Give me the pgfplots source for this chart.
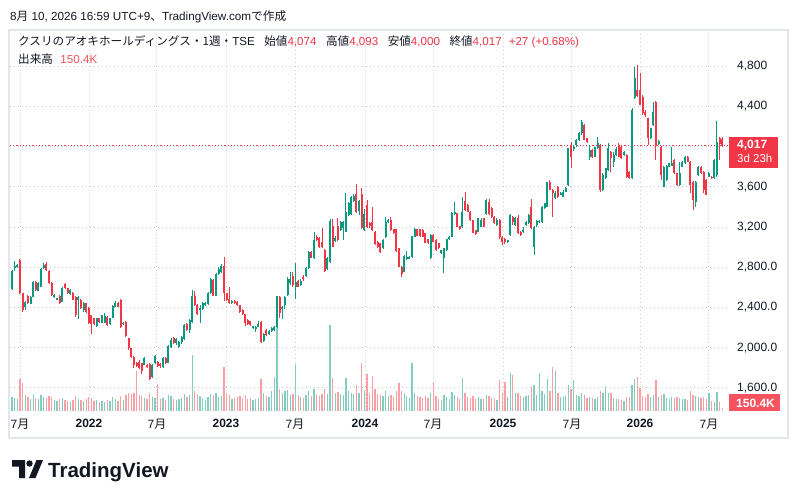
\documentclass[border=0pt]{standalone}
\usepackage{pgfplots}
\pgfplotsset{compat=1.18}
\usepackage{pgfplotstable}
\usepackage{fontspec}
\setmainfont{Liberation Sans}
\newfontfamily\cjk{Noto Sans CJK JP}
\definecolor{upc}{RGB}{8,153,129}
\definecolor{downc}{RGB}{242,54,69}
\definecolor{volup}{RGB}{131,204,192}
\definecolor{voldn}{RGB}{248,160,166}
\definecolor{gridc}{RGB}{200,202,208}
\definecolor{txtc}{RGB}{19,23,34}
\definecolor{volbox}{RGB}{247,82,95}
\definecolor{framec}{RGB}{226,229,236}

\pgfplotstableread{
w o h l c v
0 2581 2775 2570 2766 700
1 2790 2860 2766 2813 650
2 2805 2835 2795 2820 600
3 2870 2885 2530 2541 1600
4 2541 2545 2358 2375 1400
5 2401 2465 2375 2458 800
6 2514 2525 2430 2441 700
7 2435 2515 2430 2508 600
8 2508 2665 2500 2657 850
9 2657 2665 2565 2574 650
10 2567 2650 2560 2640 600
11 2607 2790 2600 2783 800
12 2790 2840 2780 2823 700
13 2830 2850 2760 2770 650
14 2766 2775 2630 2640 750
15 2640 2650 2515 2524 700
16 2508 2530 2498 2525 550
17 2481 2498 2475 2491 500
18 2514 2525 2430 2441 600
19 2458 2600 2450 2591 650
20 2630 2640 2585 2591 550
21 2591 2595 2530 2541 500
22 2530 2580 2525 2574 450
23 2541 2550 2470 2475 550
24 2508 2515 2310 2325 750
25 2475 2515 2282 2508 600
26 2475 2480 2385 2392 550
27 2375 2450 2360 2441 500
28 2441 2445 2350 2358 600
29 2392 2400 2235 2242 700
30 2325 2330 2136 2236 650
31 2292 2300 2230 2236 500
32 2216 2300 2210 2292 550
33 2292 2300 2250 2259 450
34 2249 2330 2245 2325 500
35 2249 2348 2245 2315 450
36 2309 2315 2220 2226 550
37 2236 2300 2230 2292 500
38 2300 2420 2295 2415 700
39 2408 2468 2400 2441 600
40 2441 2450 2400 2408 500
41 2475 2480 2200 2209 750
42 2236 2255 2225 2249 550
43 2259 2265 2105 2116 800
44 2093 2100 1980 1994 900
45 1994 2000 1900 1910 850
46 1910 1915 1794 1830 900
47 1850 1860 1805 1815 2000
48 1860 1875 1790 1795 800
49 1845 1850 1740 1770 750
50 1830 1905 1825 1895 650
51 1830 1840 1800 1805 600
52 1840 1845 1680 1690 900
53 1705 1840 1695 1830 700
54 1845 1930 1835 1918 650
55 1860 1870 1810 1820 1350
56 1840 1850 1800 1815 600
57 1810 1905 1800 1900 650
58 1900 1910 1835 1845 550
59 1850 2030 1845 2017 800
60 2010 2100 2000 2077 750
61 2100 2110 2040 2050 600
62 2050 2100 2030 2090 550
63 2010 2070 1995 2060 600
64 2060 2120 2040 2110 650
65 2083 2235 2075 2225 850
66 2240 2250 2170 2180 700
67 2175 2290 2150 2275 800
68 2260 2574 2250 2510 2800
69 2510 2560 2415 2425 1000
70 2425 2430 2330 2340 850
71 2380 2420 2250 2395 750
72 2380 2450 2370 2440 650
73 2425 2450 2415 2440 550
74 2430 2550 2425 2540 700
75 2540 2690 2530 2680 850
76 2670 2680 2510 2515 800
77 2515 2740 2510 2732 900
78 2730 2800 2720 2780 700
79 2750 2830 2745 2813 750
80 2810 2899 2460 2540 2200
81 2540 2545 2465 2475 900
82 2480 2607 2430 2440 800
83 2440 2470 2430 2460 600
84 2460 2470 2430 2440 650
85 2450 2460 2415 2425 700
86 2420 2425 2350 2360 750
87 2370 2380 2325 2335 650
88 2335 2340 2220 2245 800
89 2275 2290 2230 2240 600
90 2265 2270 2215 2230 650
91 2200 2220 2185 2210 550
92 2190 2215 2160 2210 600
93 2210 2265 2205 2240 650
94 2260 2270 2050 2060 1600
95 2065 2150 2055 2140 900
96 2175 2185 2120 2130 750
97 2140 2180 2130 2170 700
98 2165 2210 2155 2200 1000
99 2175 2220 2165 2210 1700
100 2210 2515 2200 2510 4300
101 2505 2510 2300 2350 1100
102 2390 2410 2285 2400 900
103 2420 2510 2385 2507 1000
104 2524 2700 2515 2683 1050
105 2640 2750 2625 2683 800
106 2716 2756 2600 2620 850
107 2600 2840 2484 2650 2350
108 2663 2670 2600 2607 800
109 2620 2680 2610 2660 700
110 2700 2720 2660 2685 650
111 2710 2800 2700 2790 800
112 2790 2960 2780 2955 1000
113 2955 2965 2890 2895 750
114 2890 3152 2880 3072 1100
115 3105 3120 3060 3072 800
116 3088 3100 2995 3005 750
117 3055 3187 2990 3000 850
118 2972 2980 2750 2763 1100
119 2785 2900 2775 2889 850
120 2855 3280 2845 3264 4300
121 3214 3280 3000 3005 1650
122 3062 3110 3050 3095 900
123 3214 3287 3065 3072 950
124 3170 3260 3165 3254 850
125 3190 3265 3070 3254 800
126 3155 3536 3150 3353 1650
127 3320 3450 3310 3436 1000
128 3330 3510 3320 3500 900
129 3460 3530 3450 3512 850
130 3530 3629 3340 3355 1300
131 3360 3470 3320 3460 900
132 3525 3590 3180 3194 2400
133 3170 3380 3165 3335 1000
134 3420 3470 3190 3205 1850
135 3244 3255 3195 3211 900
136 3254 3404 3160 3171 1750
137 3155 3165 3025 3032 1100
138 3055 3065 2995 3006 850
139 3039 3045 2945 2956 800
140 2990 3080 2985 3072 750
141 3098 3298 3095 3254 1000
142 3254 3285 3245 3271 750
143 3271 3298 3165 3171 800
144 3178 3185 3135 3145 700
145 3178 3185 2950 2966 1000
146 2989 2995 2800 2807 1400
147 2807 2815 2700 2734 1000
148 2757 2920 2750 2913 900
149 2880 2966 2875 2906 750
150 2889 2910 2880 2899 650
151 2899 3115 2890 3112 2400
152 3105 3190 3100 3178 900
153 3178 3185 3110 3112 750
154 3178 3185 3105 3112 700
155 3171 3180 3100 3105 650
156 3138 3145 3040 3045 750
157 3079 3085 3030 3039 650
158 2889 3130 2880 3122 900
159 3122 3130 3050 3055 1450
160 3072 3080 2965 2972 750
161 3039 3045 2985 2989 600
162 2939 2975 2930 2972 550
163 2889 2995 2747 2989 800
164 2972 3085 2965 3079 700
165 3079 3110 3070 3105 600
166 3105 3350 3100 3344 950
167 3330 3453 3320 3350 800
168 3337 3345 3200 3205 700
169 3211 3215 3170 3178 600
170 3205 3500 3195 3354 1650
171 3463 3553 3360 3370 900
172 3420 3425 3350 3354 700
173 3354 3360 3265 3271 650
174 3271 3275 3140 3145 750
175 3171 3175 3125 3132 600
176 3155 3295 3150 3288 700
177 3205 3290 3200 3271 600
178 3288 3295 3200 3205 600
179 3331 3480 3325 3470 800
180 3450 3480 3320 3330 750
181 3386 3400 3290 3303 650
182 3303 3310 3230 3237 600
183 3221 3290 3215 3270 550
184 3270 3280 3080 3104 1550
185 3104 3110 3020 3055 900
186 3080 3090 3035 3055 1450
187 3055 3075 3045 3070 700
188 3121 3330 3110 3320 1900
189 3300 3310 3220 3254 1800
190 3221 3300 3215 3287 900
191 3287 3320 3130 3138 900
192 3154 3165 3110 3121 750
193 3154 3200 3140 3171 700
194 3221 3260 3215 3254 750
195 3237 3330 3230 3320 800
196 3403 3480 3180 3187 1200
197 3004 3210 2922 3204 1300
198 3220 3270 3200 3260 800
199 3254 3270 3240 3262 1900
200 3254 3410 3245 3403 1000
201 3386 3440 3380 3436 850
202 3403 3652 3395 3652 1600
203 3652 3665 3570 3569 1000
204 3569 3575 3303 3535 2200
205 3486 3560 3480 3535 2000
206 3602 3610 3490 3502 900
207 3519 3550 3515 3535 700
208 3502 3570 3495 3552 700
209 3552 3600 3545 3585 750
210 3618 3990 3610 3983 1300
211 4016 4050 3784 3900 1100
212 3983 4016 3960 4000 1550
213 4016 4080 4000 4066 800
214 4066 4150 4060 4133 750
215 4133 4265 4120 4249 900
216 4215 4230 4066 4066 800
217 4083 4090 4040 4050 650
218 3901 4017 3868 3968 700
219 3967 3980 3890 3900 650
220 3900 4000 3895 3995 600
221 3983 4099 3975 4033 700
222 4016 4030 3550 3569 1000
223 3569 3735 3560 3718 900
224 3685 3790 3680 3784 1200
225 3768 4034 3760 3984 900
226 3951 3960 3752 3885 900
227 3851 3951 3802 3918 650
228 3918 3997 3910 3980 600
229 4017 4040 3895 3901 600
230 4001 4010 3880 3885 550
231 3918 3960 3910 3951 500
232 3918 3925 3685 3702 700
233 3752 3760 3680 3685 700
234 3685 4380 3680 4366 1300
235 4482 4797 4470 4681 1600
236 4565 4813 4490 4500 1700
237 4565 4730 4410 4415 1150
238 4498 4510 4320 4332 750
239 4349 4360 4300 4316 700
240 4283 4290 4017 4083 850
241 4083 4190 4075 4183 700
242 4216 4448 4210 4349 800
243 4448 4455 3868 4017 1550
244 4027 4070 4020 4060 700
245 4001 4010 3669 3719 800
246 3603 3810 3595 3802 850
247 3669 3820 3660 3810 650
248 3802 3840 3795 3835 600
249 3810 3997 3805 3835 700
250 3868 3875 3730 3735 650
251 3735 3740 3610 3619 700
252 3619 3851 3610 3735 650
253 3802 3855 3795 3851 600
254 3835 3905 3830 3901 600
255 3901 3910 3845 3851 550
256 3851 3860 3536 3619 1000
257 3652 3660 3370 3470 800
258 3453 3660 3404 3652 750
259 3719 3810 3710 3802 700
260 3802 3810 3730 3735 650
261 3752 3760 3536 3569 700
262 3669 3675 3515 3520 600
263 3702 3745 3695 3735 900
264 3702 3710 3680 3685 500
265 3685 3875 3680 3868 450
266 3719 4256 3700 4050 950
267 4083 4100 3868 4030 450
268 4074 4093 4000 4017 150.4
}\candles

\pgfplotsset{candle/.style={only marks, mark=*, mark size=0pt,
  mark options={draw=none, fill=none}, restrict y to domain=0:100000,
  error bars/.cd, y dir=both, y explicit, error mark=none}}

\begin{document}
\begin{tikzpicture}[x=1pt,y=1pt]
\fill[white] (0,0) rectangle (798,499);
\draw[framec, line width=1.3pt] (9,61) rectangle (788,469);
\begin{axis}[
  at={(10pt,88pt)}, anchor=south west, scale only axis,
  width=718pt, height=380pt,
  xmin=-0.75, xmax=270.2, ymin=1370, ymax=5151,
  axis line style={draw=none}, major tick length=0pt,
  xtick={3.02,29.06,54.7,80.75,106.8,133.2,158.9,185.3,211.3,237.0,263.0},
  xticklabels={7{\cjk 月},{\bfseries 2022},7{\cjk 月},{\bfseries 2023},7{\cjk 月},{\bfseries 2024},7{\cjk 月},{\bfseries 2025},7{\cjk 月},{\bfseries 2026},7{\cjk 月}},
  ytick={1600,2000,2400,2800,3200,3600,4000,4400,4800},
  yticklabels={{1,600.0},{2,000.0},{2,400.0},{2,800.0},{3,200},{3,600},{},{4,400},{4,800}},
  yticklabel pos=right,
  grid=major,
  major grid style={gridc, line width=0.9pt, dash pattern=on 1.2pt off 2.8pt},
  ticklabel style={font=\fontsize{12}{14}\selectfont, text=txtc, inner sep=0pt},
  xticklabel style={anchor=north, yshift=-8pt},
  yticklabel style={anchor=west, xshift=9pt},
]
% volume
\addplot[ycomb, mark=none, line width=1.3pt, volup, restrict y to domain=0:100000]
  table[x=w, y expr={\thisrow{c}>=\thisrow{o} ? 1370+0.199*\thisrow{v} : -1000}] {\candles};
\addplot[ycomb, mark=none, line width=1.3pt, voldn, restrict y to domain=0:100000]
  table[x=w, y expr={\thisrow{c}<\thisrow{o} ? 1370+0.199*\thisrow{v} : -1000}] {\candles};
% last price line
\addplot[downc, line width=0.9pt, dash pattern=on 1.2pt off 2pt] coordinates {(-0.75,4017) (270.2,4017)};
% wicks up
\addplot[candle, error bar style={draw=upc, line width=0.9pt}]
  table[x=w, y expr={\thisrow{c}>=\thisrow{o} ? (\thisrow{h}+\thisrow{l})/2 : -1000},
        y error expr={(\thisrow{h}-\thisrow{l})/2}] {\candles};
% wicks down
\addplot[candle, error bar style={draw=downc, line width=0.9pt}]
  table[x=w, y expr={\thisrow{c}<\thisrow{o} ? (\thisrow{h}+\thisrow{l})/2 : -1000},
        y error expr={(\thisrow{h}-\thisrow{l})/2}] {\candles};
% bodies up
\addplot[candle, error bar style={draw=upc, line width=2pt}]
  table[x=w, y expr={\thisrow{c}>=\thisrow{o} ? (\thisrow{o}+\thisrow{c})/2 : -1000},
        y error expr={max(abs(\thisrow{c}-\thisrow{o})/2,6)}] {\candles};
% bodies down
\addplot[candle, error bar style={draw=downc, line width=2pt}]
  table[x=w, y expr={\thisrow{c}<\thisrow{o} ? (\thisrow{o}+\thisrow{c})/2 : -1000},
        y error expr={max(abs(\thisrow{c}-\thisrow{o})/2,6)}] {\candles};
\end{axis}

% header
\node[anchor=base west, inner sep=0, text=txtc, font=\fontsize{11.7}{14}\selectfont] at (10,478)
  {8{\cjk 月} 10, 2026 16:59 UTC+9{\cjk 、}TradingView.com{\cjk で作成}};
% legend
\node[anchor=base west, inner sep=0, text=txtc, font=\fontsize{11.6}{14}\selectfont] at (18,453)
  {{\cjk クスリのアオキホールディングス・1週・}TSE\hspace{9.5pt}{\cjk 始値}\textcolor{downc}{4,074}\hspace{9.5pt}{\cjk 高値}\textcolor{downc}{4,093}\hspace{9.5pt}{\cjk 安値}\textcolor{downc}{4,000}\hspace{9.5pt}{\cjk 終値}\textcolor{downc}{4,017}\hspace{7pt}\textcolor{downc}{+27 (+0.68\%)}};
\node[anchor=base west, inner sep=0, text=txtc, font=\fontsize{11.6}{14}\selectfont] at (18,435)
  {{\cjk 出来高}\hspace{7.5pt}\textcolor{volbox}{150.4K}};

% last price label
\fill[downc] (729,331) rectangle (778,362);
\node[anchor=base west, inner sep=0, text=white, font=\bfseries\fontsize{12}{14}\selectfont] at (737,350) {4,017};
\node[anchor=base west, inner sep=0, text=white, font=\fontsize{11.5}{14}\selectfont] at (737,336) {3d 23h};
% volume label
\fill[volbox] (729,88) rectangle (780,105);
\node[anchor=base west, inner sep=0, text=white, font=\bfseries\fontsize{12}{14}\selectfont] at (736,92) {150.4K};

% TradingView logo
\fill[txtc] (12,39) -- (25,39) -- (25,21) -- (19,21) -- (19,32.5) -- (12,32.5) -- cycle;
\fill[txtc] (29.5,35.5) circle (3.2);
\fill[txtc] (29,21) -- (36.5,39) -- (43,39) -- (35.5,21) -- cycle;
\node[anchor=base west, inner sep=0, text=txtc, font=\bfseries\fontsize{20.5}{24}\selectfont] at (48,22) {TradingView};
\end{tikzpicture}
\end{document}
